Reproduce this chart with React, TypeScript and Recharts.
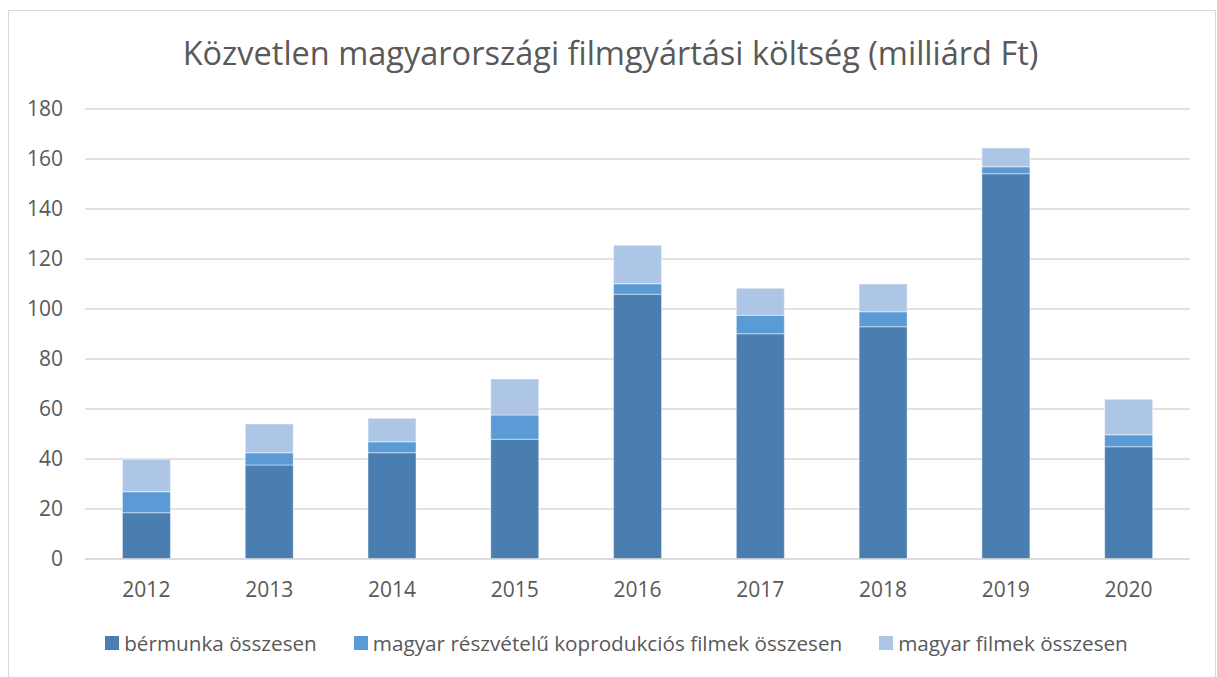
import React from "react";
import { BarChart, Bar, XAxis, YAxis, CartesianGrid, Legend } from "recharts";

const years = ["2012", "2013", "2014", "2015", "2016", "2017", "2018", "2019", "2020"];
const bermunka = [18.5, 37.6, 42.5, 47.9, 105.9, 90.1, 92.9, 154.1, 44.9];
const koprodukcio = [8.4, 4.9, 4.4, 9.7, 4.2, 7.4, 6.0, 2.8, 4.8];
const magyarFilmek = [13.0, 11.5, 9.4, 14.4, 15.4, 10.8, 11.1, 7.5, 14.2];
const yTicks = [0, 20, 40, 60, 80, 100, 120, 140, 160, 180];

const seriesNames = [
  "bérmunka összesen",
  "magyar részvételű koprodukciós filmek összesen",
  "magyar filmek összesen",
];
const seriesColors = ["#4a7eb0", "#5b9bd5", "#aec6e6"];
const seriesKeys = ["bermunka", "kopro", "magyar"];

const data = years.map((y, i) => ({
  year: y,
  bermunka: bermunka[i],
  kopro: koprodukcio[i],
  magyar: magyarFilmek[i],
}));

const FONT = "'Open Sans', sans-serif";
const TEXT = "#595959";

const LegendContent = () => (
  <div
    style={{
      display: "flex",
      justifyContent: "center",
      alignItems: "center",
      height: 28,
      fontFamily: FONT,
      fontSize: 20.7,
      color: TEXT,
      gap: 37,
      paddingLeft: 38,
      boxSizing: "border-box",
    }}
  >
    {seriesNames.map((n, i) => (
      <div key={n} style={{ display: "flex", alignItems: "center" }}>
        <span
          style={{
            display: "inline-block",
            width: 14,
            height: 14,
            background: seriesColors[i],
            marginRight: 5,
          }}
        />
        <span>{n}</span>
      </div>
    ))}
  </div>
);

export default function App() {
  return (
    <div
      style={{
        position: "absolute",
        left: 0,
        top: 0,
        width: 1217,
        height: 677,
        background: "#fff",
        overflow: "hidden",
      }}
    >
      <div
        style={{
          position: "absolute",
          left: 8,
          top: 10,
          width: 1208,
          height: 700,
          border: "1px solid #d9d9d9",
          boxSizing: "border-box",
        }}
      />
      <div
        style={{
          position: "absolute",
          left: 2,
          top: 31,
          width: 1217,
          textAlign: "center",
          fontFamily: FONT,
          fontSize: 32.5,
          color: TEXT,
          lineHeight: "44px",
        }}
      >
        Közvetlen magyarországi filmgyártási költség (milliárd Ft)
      </div>
      <div style={{ position: "absolute", left: 0, top: 0 }}>
        <BarChart
          width={1217}
          height={677}
          data={data}
          margin={{ top: 109, right: 27, left: 5, bottom: 20 }}
          barCategoryGap="30.5%"
        >
          <CartesianGrid vertical={false} stroke="#d9d9d9" strokeWidth={1.5} />
          <XAxis
            dataKey="year"
            height={70}
            tickLine={false}
            axisLine={{ stroke: "#d9d9d9", strokeWidth: 1.5 }}
            tickSize={0}
            tickMargin={23}
            tick={{ fill: TEXT, fontSize: 21, fontFamily: FONT }}
          />
          <YAxis
            width={80}
            domain={[0, 180]}
            ticks={yTicks}
            tickLine={false}
            axisLine={false}
            tickSize={0}
            tickMargin={22}
            tick={{ fill: TEXT, fontSize: 21, fontFamily: FONT }}
          />
          <Legend verticalAlign="bottom" content={<LegendContent />} />
          {seriesKeys.map((k, i) => (
            <Bar
              key={k}
              dataKey={k}
              name={seriesNames[i]}
              stackId="a"
              fill={seriesColors[i]}
              stroke="rgba(255,255,255,0.45)"
              strokeWidth={1}
              isAnimationActive={false}
            />
          ))}
        </BarChart>
      </div>
    </div>
  );
}
